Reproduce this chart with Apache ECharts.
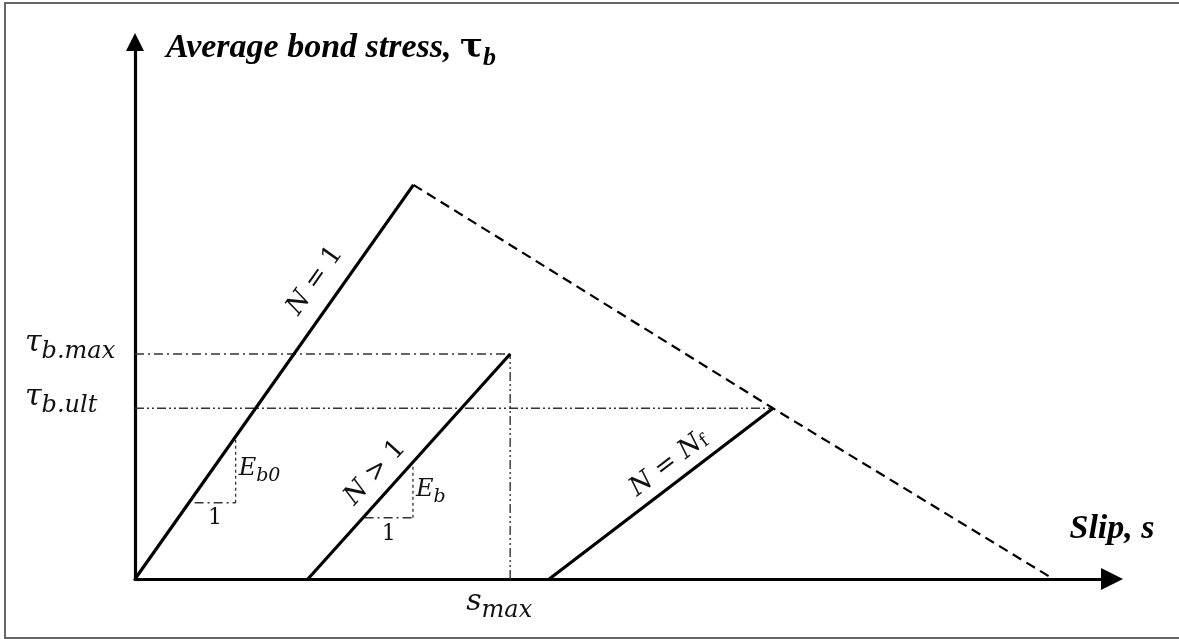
<!DOCTYPE html>
<html>
<head>
<meta charset="utf-8">
<script src="https://cdn.jsdelivr.net/npm/echarts@6/dist/echarts.min.js"></script>
<style>
  html, body { margin: 0; padding: 0; background: #fff; overflow: hidden; }
  #frame { position: absolute; left: 4px; top: 2px; width: 1190px; height: 633px; border: 2px solid #666; }
  #chart { position: absolute; left: 0; top: 0; width: 1179px; height: 639px; }
</style>
</head>
<body>
<div id="frame"></div>
<div id="chart"></div>
<script>
// Bond stress – slip response of a bar under repeated loading (schematic units)
const slipRange = [0, 100];
const stressRange = [0, 100];

// loading branches: [slip, bond stress]
const firstCycle = [[0, 0], [28.5, 73.4]];          // N = 1
const laterCycle = [[17.7, 0], [38.4, 41.9]];       // N > 1
const failureCycle = [[42.4, 0], [65.3, 31.8]];     // N = N_f
const envelope = [[28.5, 73.4], [65.3, 31.8], [94.0, 0]];

const tauMax = 41.9;
const tauUlt = 31.8;
const sMax = 38.4;

// slope triangles (horizontal run, vertical rise)
const slopeE0 = [[6.1, 14.2], [10.3, 14.2], [10.3, 25.9]];
const slopeE = [[23.5, 11.4], [28.45, 11.4], [28.45, 20.9]];

// tick labels
const yTickValues = [tauMax, tauUlt];
const yTickSubs = ['b.max', 'b.ult'];
const xTickValues = [sMax];
const xTickSubs = ['max'];

const cycleLabels = ['{m|N} = 1', '{m|N} > 1', '{m|N} = {m|N}{f|f}'];
const slopeLabels = [['{m|E}{s|b0}', '1'], ['{m|E}{s|b}', '1']];

const mathFont = 'DejaVu Serif';
const titleFont = 'Liberation Serif';
const ink = '#111';

const solid = { color: '#000', width: 3.2, type: 'solid' };
const dashed = { color: '#000', width: 2.2, type: [10, 6] };
const dashDot = { color: '#333', width: 1.4, type: [9, 4, 2, 4] };
const dashDotDot = { color: '#333', width: 1.4, type: [9, 3, 2, 3, 2, 3] };
const dotted = { color: '#333', width: 1.3, type: [3, 3] };

function line(name, data, style, z) {
  return { type: 'line', name, data, symbol: 'none', silent: true, animation: false,
           lineStyle: style, z: z || 2 };
}

function lerp(a, b, t) { return [a[0] + (b[0] - a[0]) * t, a[1] + (b[1] - a[1]) * t]; }

// label laid along a branch, centred at fraction f of its length
function branchLabel(seg, f, text, gap) {
  let p0, p1;
  if (2 * f <= 1) { p0 = seg[0]; p1 = lerp(seg[0], seg[1], 2 * f); }
  else { p0 = lerp(seg[0], seg[1], 2 * f - 1); p1 = seg[1]; }
  return {
    symbol: ['none', 'none'], silent: true, animation: false,
    lineStyle: { color: 'rgba(0,0,0,0)', width: 1, type: 'solid' },
    label: {
      show: true, position: 'insideMiddleTop', distance: gap, formatter: text,
      fontFamily: mathFont, fontSize: 26, color: ink,
      rich: {
        m: { fontFamily: mathFont, fontStyle: 'italic', fontSize: 26, color: ink },
        f: { fontFamily: mathFont, fontSize: 18, color: ink, verticalAlign: 'bottom', padding: [8, 0, 0, 0] }
      }
    },
    data: [[{ coord: p0 }, { coord: p1 }]]
  };
}

const mathRich = {
  m: { fontFamily: mathFont, fontStyle: 'italic', fontSize: 24, color: ink, verticalAlign: 'bottom', padding: [0, 0, 5, 0] },
  s: { fontFamily: mathFont, fontStyle: 'italic', fontSize: 19, color: ink, verticalAlign: 'bottom' }
};

function slopeAnnotations(tri, labels) {
  const runMid = [(tri[0][0] + tri[1][0]) / 2, tri[0][1]];
  const riseMid = [tri[1][0], (tri[1][1] + tri[2][1]) / 2];
  return [
    { value: riseMid, label: { show: true, position: 'right', distance: 3, formatter: labels[0], rich: mathRich } },
    { value: runMid, label: { show: true, position: 'bottom', distance: 5, formatter: labels[1],
        fontFamily: mathFont, fontSize: 22, color: ink } }
  ];
}

const tickRich = {
  t: { fontFamily: mathFont, fontStyle: 'italic', fontSize: 30, color: ink, verticalAlign: 'bottom', padding: [0, 0, 6, 0] },
  s: { fontFamily: mathFont, fontStyle: 'italic', fontSize: 24, color: ink, verticalAlign: 'bottom' }
};

const chart = echarts.init(document.getElementById('chart'), null, { renderer: 'canvas' });

chart.setOption({
  animation: false,
  backgroundColor: 'transparent',
  grid: { left: 135, right: 67, top: 42, bottom: 60 },
  xAxis: {
    type: 'value', min: slipRange[0], max: slipRange[1],
    name: 'Slip, s', nameLocation: 'end', nameGap: 0,
    nameTextStyle: { fontFamily: titleFont, fontStyle: 'italic', fontWeight: 'bold', fontSize: 34,
                     color: '#000', align: 'center', verticalAlign: 'bottom', padding: [0, 0, 33, 0] },
    axisLine: { show: true, symbol: ['none', 'triangle'], symbolSize: [22, 22],
                lineStyle: { color: '#000', width: 3.2 } },
    axisTick: { show: false },
    splitLine: { show: false },
    axisLabel: {
      show: true, customValues: xTickValues, margin: 8, padding: [0, 22, 0, 0],
      formatter: v => '{t|s}{s|' + xTickSubs[xTickValues.indexOf(v)] + '}',
      rich: tickRich
    }
  },
  yAxis: {
    type: 'value', min: stressRange[0], max: stressRange[1],
    name: '{a|Average bond stress, }{t|τ}{b|b}', nameLocation: 'end', nameGap: -9,
    nameTextStyle: {
      align: 'left', verticalAlign: 'middle', padding: [0, 0, 0, 31],
      rich: {
        a: { fontFamily: titleFont, fontStyle: 'italic', fontWeight: 'bold', fontSize: 34, color: '#000', verticalAlign: 'bottom', padding: [0, 0, 6, 0] },
        t: { fontFamily: mathFont, fontWeight: 'bold', fontSize: 34, color: '#000', verticalAlign: 'bottom', padding: [0, 0, 6, 0] },
        b: { fontFamily: titleFont, fontStyle: 'italic', fontWeight: 'bold', fontSize: 26, color: '#000', verticalAlign: 'bottom' }
      }
    },
    axisLine: { show: true, symbol: ['none', 'triangle'], symbolSize: [18, 18],
                lineStyle: { color: '#000', width: 3.2 } },
    axisTick: { show: false },
    splitLine: { show: false },
    axisLabel: {
      show: true, customValues: yTickValues, margin: 110, align: 'left',
      verticalAlign: 'bottom', padding: [0, 0, -10, 0],
      formatter: v => '{t|τ}{s|' + yTickSubs[yTickValues.indexOf(v)] + '}',
      rich: tickRich
    }
  },
  series: [
    line('τb.max guide', [[0, tauMax], [sMax, tauMax]], dashDot, 1),
    line('smax guide', [[sMax, 0], [sMax, tauMax]], dashDotDot, 1),
    line('τb.ult guide', [[0, tauUlt], [failureCycle[1][0], tauUlt]], dashDotDot, 1),
    line('envelope', envelope, dashed, 2),
    Object.assign(line('N = 1', firstCycle, solid, 3), { markLine: branchLabel(firstCycle, 0.72, cycleLabels[0], 12) }),
    Object.assign(line('N > 1', laterCycle, solid, 3), { markLine: branchLabel(laterCycle, 0.41, cycleLabels[1], 8) }),
    Object.assign(line('N = Nf', failureCycle, solid, 3), { markLine: branchLabel(failureCycle, 0.586, cycleLabels[2], 6) }),
    line('E_b0 run', slopeE0.slice(0, 2), dashDot, 1),
    line('E_b0 rise', slopeE0.slice(1, 3), dotted, 1),
    line('E_b run', slopeE.slice(0, 2), dashDot, 1),
    line('E_b rise', slopeE.slice(1, 3), dotted, 1),
    {
      type: 'scatter', name: 'slope labels', symbolSize: 0, silent: true, animation: false,
      itemStyle: { opacity: 1, color: ink },
      data: slopeAnnotations(slopeE0, slopeLabels[0]).concat(slopeAnnotations(slopeE, slopeLabels[1]))
    }
  ]
});
</script>
</body>
</html>
